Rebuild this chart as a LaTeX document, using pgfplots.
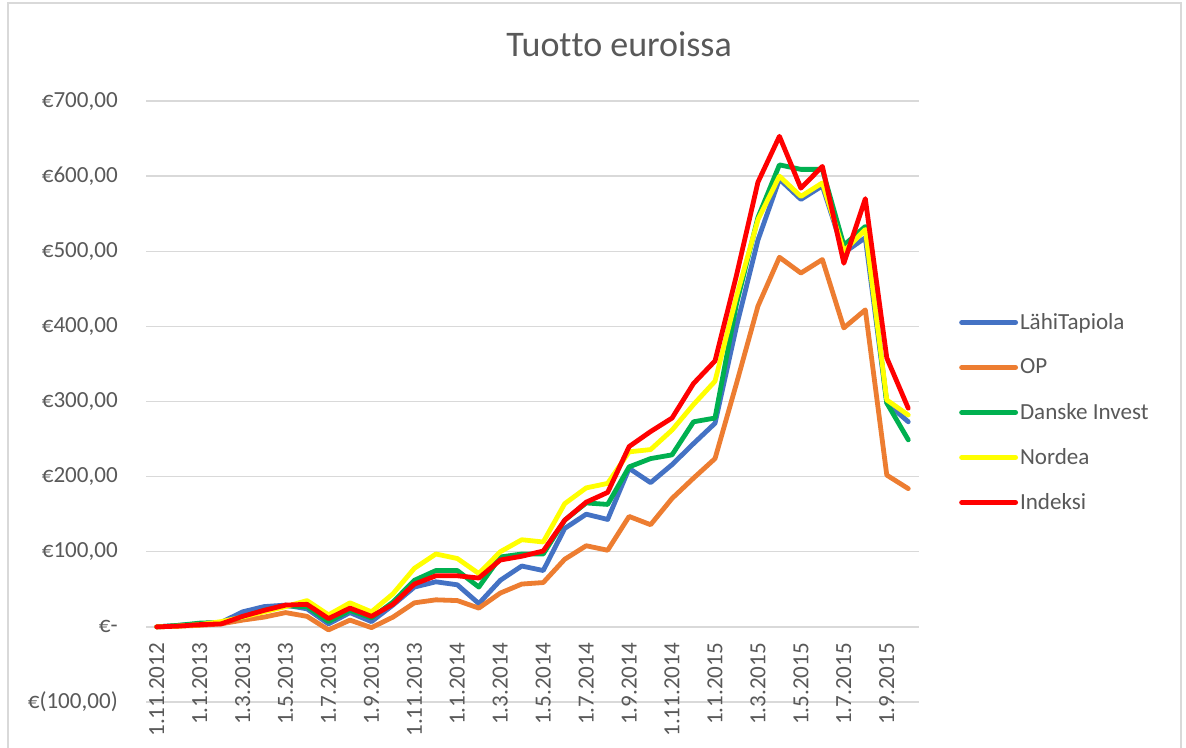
\documentclass[border=0pt]{standalone}
\usepackage{pgfplots}
\usepackage{pgfplotstable}
\pgfplotsset{compat=1.18}
\usepackage{fontspec}
\setmainfont{Carlito}[Ligatures=CommonOff]
\definecolor{cblue}{HTML}{4472C4}
\definecolor{corange}{HTML}{ED7D31}
\definecolor{cgreen}{HTML}{00B050}
\definecolor{cyellow}{HTML}{FFFF00}
\definecolor{cred}{HTML}{FF0000}
\definecolor{gridc}{HTML}{D9D9D9}
\definecolor{textc}{HTML}{595959}

\pgfplotstableread{
x lt op di no ix
0 0 0 0 0 0
1 2 1 2 1 1
2 4 2 5 3 3
3 6 4 6 7 4
4 20 9 13 13 14
5 27 13 22 20 22
6 29 19 28 27 29
7 24 14 27 35 30
8 4 -4 7 16 11
9 19 9 22 32 25
10 7 -1 12 20 14
11 29 13 33 44 30
12 53 32 62 78 57
13 60 36 75 97 68
14 56 35 75 91 68
15 31 25 53 71 65
16 62 45 93 100 89
17 81 57 97 116 94
18 75 59 97 113 101
19 131 90 142 164 142
20 150 108 165 185 166
21 143 102 163 191 179
22 211 147 213 233 240
23 192 136 224 236 260
24 216 171 229 262 278
25 244 198 273 296 324
26 271 224 278 327 354
27 400 324 430 440 468
28 515 427 545 542 592
29 596 492 615 600 653
30 569 471 609 573 584
31 587 489 609 591 613
32 498 398 508 500 484
33 518 422 533 529 570
34 298 202 298 302 358
35 273 184 249 282 291
}\datatable

\begin{document}
\begin{tikzpicture}
\useasboundingbox (0,0) rectangle (889.5pt,560.25pt);
\fill[white] (0,0) rectangle (889.5pt,560.25pt);
\draw[color=gridc, line width=1.1pt] (6pt,-2pt) -- (6pt,558pt) -- (885.75pt,558pt) -- (885.75pt,-2pt);
\begin{axis}[
  at={(109.5pt,33.75pt)}, anchor=south west,
  scale only axis, width=579.75pt, height=450.75pt,
  xmin=-0.5, xmax=35.5, ymin=-100, ymax=700,
  axis x line*=middle, axis y line*=left,
  axis line style={draw=none},
  major tick length=0pt,
  ymajorgrids, grid style={color=gridc, line width=1pt},
  ytick={-100,0,100,200,300,400,500,600,700},
  yticklabels={{€(100,00)},{€-},{€100,00},{€200,00},{€300,00},{€400,00},{€500,00},{€600,00},{€700,00}},
  xtick={0,2,...,34},
  xticklabels={1.11.2012,1.1.2013,1.3.2013,1.5.2013,1.7.2013,1.9.2013,1.11.2013,1.1.2014,1.3.2014,1.5.2014,1.7.2014,1.9.2014,1.11.2014,1.1.2015,1.3.2015,1.5.2015,1.7.2015,1.9.2015},
  every tick label/.append style={font=\fontsize{17.3}{20}\selectfont, text=textc},
  yticklabel style={anchor=east, inner sep=0pt, xshift=-21pt},
  xticklabel style={rotate=90, anchor=east, inner xsep=12pt, inner ysep=0pt},
  title={Tuot\kern0ptto euroissa},
  title style={at={(0.612,1.06)}, anchor=base, font=\fontsize{27}{32}\selectfont, text=textc},
  legend style={at={(1.0517,0.4817)}, anchor=west, draw=none, fill=none,
    font=\fontsize{17.3}{20}\selectfont, text=textc, row sep=0pt, column sep=1.5pt,
    inner sep=0pt, nodes={inner sep=0pt, minimum height=33.75pt}},
  legend cell align=left,
  legend image code/.code={\draw[#1] (0pt,0pt) -- (40.5pt,0pt);},
  every axis plot/.append style={line width=3.6pt, line cap=round, line join=round, mark=none},
]
\addplot[color=cblue] table[x=x, y=lt] {\datatable};
\addlegendentry{LähiTapiola}
\addplot[color=corange] table[x=x, y=op] {\datatable};
\addlegendentry{OP}
\addplot[color=cgreen] table[x=x, y=di] {\datatable};
\addlegendentry{Danske Invest}
\addplot[color=cyellow] table[x=x, y=no] {\datatable};
\addlegendentry{Nordea}
\addplot[color=cred] table[x=x, y=ix] {\datatable};
\addlegendentry{Indeksi}
\end{axis}
\end{tikzpicture}
\end{document}
